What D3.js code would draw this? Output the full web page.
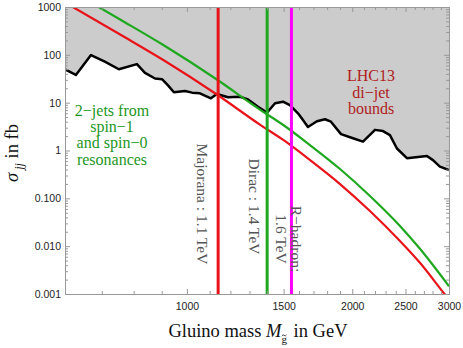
<!DOCTYPE html>
<html>
<head>
<meta charset="utf-8">
<script src="https://cdn.jsdelivr.net/npm/d3@7"></script>
<style>
  body { margin: 0; background: #fff; }
</style>
</head>
<body>
<div id="chart"></div>
<script>
// LHC13 di-jet bound (black jagged line)
var boundMass = [600, 628, 669, 709, 752, 811, 839, 875, 901, 924, 947, 992, 1022, 1056, 1106, 1134, 1188, 1249, 1292, 1347, 1399, 1447, 1496, 1540, 1593, 1618, 1661, 1725, 1784, 1829, 1908, 2006, 2092, 2200, 2275, 2342, 2412, 2515, 2735, 2805, 2888, 3000];
var boundSigma = [50, 38, 99, 72, 50, 64, 42, 32, 31, 23, 16.5, 17.5, 16.2, 15.7, 12.3, 15.2, 13, 13.3, 11.7, 8.2, 6.2, 9.7, 10.5, 8.9, 6, 4.7, 3.1, 4.1, 4.5, 4.0, 2.2, 1.8, 1.53, 2.7, 2.55, 2.1, 1.1, 0.69, 0.77, 0.63, 0.46, 0.39];

// Majorana gluino (red)
var majMass = [620, 756, 906, 1134, 1358, 1498, 1675, 1900, 2154, 2443, 2656, 2925, 3000];
var majSigma = [1000, 266, 78.0, 14.8, 3.48, 1.66, 0.633, 0.199, 0.0543, 0.0128, 0.00449, 0.0011, 0.00076];

// Dirac gluino (green)
var dirMass = [620, 756, 906, 1134, 1358, 1498, 1675, 1900, 2154, 2443, 2656, 3000];
var dirSigma = [2058, 548, 160.5, 30.5, 7.16, 3.41, 1.30, 0.410, 0.112, 0.0264, 0.0088, 0.00145];

// bounds (vertical lines)
var limitMass = [1140, 1400, 1550];
var limitColors = ["#e8141a", "#1fa81f", "#ff00ff"];

var yTicks = [1000, 100, 10, 1, 0.1, 0.01, 0.001];
var yTickLabels = ["1000", "100", "10", "1", "0.100", "0.010", "0.001"];
var xTicks = [1000, 1500, 2000, 2500, 3000];

var serif = "'Liberation Serif', 'Times New Roman', serif";
var sans = "'Liberation Sans', Arial, sans-serif";

var width = 463, height = 348;
var plot = { left: 65, right: 449, top: 7, bottom: 294 };

var xScale = d3.scaleLog().domain([600, 3000]).range([plot.left, plot.right]);
var yScale = d3.scaleLog().domain([0.001, 1000]).range([plot.bottom, plot.top]);

var svg = d3.select("#chart").append("svg")
  .attr("width", width)
  .attr("height", height);

svg.append("clipPath").attr("id", "clip")
  .append("rect")
  .attr("x", plot.left).attr("y", plot.top)
  .attr("width", plot.right - plot.left).attr("height", plot.bottom - plot.top);

var bound = boundMass.map(function(m, i) { return [m, boundSigma[i]]; });
var maj = majMass.map(function(m, i) { return [m, majSigma[i]]; });
var dir = dirMass.map(function(m, i) { return [m, dirSigma[i]]; });

var g = svg.append("g").attr("clip-path", "url(#clip)");

// excluded region
g.append("path")
  .datum(bound)
  .attr("fill", "#cccccc")
  .attr("d", d3.area()
    .x(function(d) { return xScale(d[0]); })
    .y0(plot.top)
    .y1(function(d) { return yScale(d[1]); }));

g.append("path")
  .datum(bound)
  .attr("fill", "none")
  .attr("stroke", "#000")
  .attr("stroke-width", 2.5)
  .attr("stroke-linejoin", "round")
  .attr("d", d3.line()
    .x(function(d) { return xScale(d[0]); })
    .y(function(d) { return yScale(d[1]); }));

var smooth = d3.line()
  .curve(d3.curveMonotoneX)
  .x(function(d) { return xScale(d[0]); })
  .y(function(d) { return yScale(d[1]); });

g.append("path").datum(dir)
  .attr("fill", "none").attr("stroke", "#1fa81f").attr("stroke-width", 2.2)
  .attr("d", smooth);

g.append("path").datum(maj)
  .attr("fill", "none").attr("stroke", "#e8141a").attr("stroke-width", 2.2)
  .attr("d", smooth);

g.selectAll(".limit").data(limitMass).enter().append("line")
  .attr("class", "limit")
  .attr("x1", function(d) { return xScale(d); })
  .attr("x2", function(d) { return xScale(d); })
  .attr("y1", plot.top)
  .attr("y2", plot.bottom)
  .attr("stroke", function(d, i) { return limitColors[i]; })
  .attr("stroke-width", 3);

// axes (ticks inside, gray frame)
var minorY = [];
for (var e = -3; e < 3; e++) {
  for (var k = 2; k < 10; k++) minorY.push(k * Math.pow(10, e));
}
var minorX = [];
for (var m = 700; m < 3000; m += 100) {
  if (xTicks.indexOf(m) < 0) minorX.push(m);
}

function styleAxis(sel) {
  sel.select(".domain").attr("stroke", "#999");
  sel.selectAll(".tick line").attr("stroke", "#999");
  sel.selectAll(".tick text").attr("fill", "#222").style("font-family", sans).style("font-size", "10.5px");
}

svg.append("g").attr("transform", "translate(" + plot.left + ",0)")
  .call(d3.axisLeft(yScale).tickValues(yTicks).tickSize(-5).tickPadding(4)
    .tickFormat(function(d, i) { return yTickLabels[i]; }))
  .call(styleAxis);
svg.append("g").attr("transform", "translate(" + plot.left + ",0)")
  .call(d3.axisLeft(yScale).tickValues(minorY).tickSize(-3).tickFormat(""))
  .call(styleAxis);
svg.append("g").attr("transform", "translate(" + plot.right + ",0)")
  .call(d3.axisRight(yScale).tickValues(yTicks).tickSize(-5).tickFormat(""))
  .call(styleAxis);
svg.append("g").attr("transform", "translate(" + plot.right + ",0)")
  .call(d3.axisRight(yScale).tickValues(minorY).tickSize(-3).tickFormat(""))
  .call(styleAxis);

svg.append("g").attr("transform", "translate(0," + plot.bottom + ")")
  .call(d3.axisBottom(xScale).tickValues(xTicks).tickSize(-5).tickPadding(8.5)
    .tickFormat(d3.format("d")))
  .call(styleAxis);
svg.append("g").attr("transform", "translate(0," + plot.bottom + ")")
  .call(d3.axisBottom(xScale).tickValues(minorX).tickSize(-3).tickFormat(""))
  .call(styleAxis);
svg.append("g").attr("transform", "translate(0," + plot.top + ")")
  .call(d3.axisTop(xScale).tickValues(xTicks).tickSize(-5).tickFormat(""))
  .call(styleAxis);
svg.append("g").attr("transform", "translate(0," + plot.top + ")")
  .call(d3.axisTop(xScale).tickValues(minorX).tickSize(-3).tickFormat(""))
  .call(styleAxis);

// annotations
function block(x, y, lines, color, size, lh, rot) {
  var t = svg.append("text")
    .attr("transform", "translate(" + x + "," + y + ")" + (rot ? " rotate(" + rot + ")" : ""))
    .attr("text-anchor", "middle")
    .attr("fill", color)
    .style("font-family", serif)
    .style("font-size", size + "px");
  lines.forEach(function(s, i) {
    t.append("tspan").attr("x", 0).attr("y", (i - (lines.length - 1) / 2) * lh).attr("dy", "0.35em").text(s);
  });
}

block(112, 134.5, ["2\u2212jets from", "spin\u22121", "and spin\u22120", "resonances"], "#1e961e", 16, 16.3);
block(371, 92, ["LHC13", "di\u2212jet", "bounds"], "#b01c1c", 16, 16.5);
block(202, 204, ["Majorana : 1.1 TeV"], "#555", 15.5, 15, 90);
block(254, 206.5, ["Dirac : 1.4 TeV"], "#555", 15.5, 15, 90);
block(289, 239, ["R\u2212hadron:", "1.6 TeV"], "#555", 15.5, 15, 90);

// axis titles
var yl = svg.append("text")
  .attr("transform", "translate(18,153) rotate(-90)")
  .attr("text-anchor", "middle")
  .style("font-family", serif)
  .style("font-size", "18.5px")
  .attr("fill", "#111");
yl.append("tspan").style("font-style", "italic").text("\u03c3");
yl.append("tspan").style("font-style", "italic").style("font-size", "12px").attr("dy", 5).text(" jj");
yl.append("tspan").attr("dy", -5).text(" in fb");

var xl = svg.append("text")
  .attr("x", 258).attr("y", 336.5)
  .attr("text-anchor", "middle")
  .style("font-family", serif)
  .style("font-size", "18.5px")
  .attr("fill", "#111");
xl.append("tspan").text("Gluino mass ");
xl.append("tspan").style("font-style", "italic").text("M");
xl.append("tspan").style("font-size", "11px").attr("dy", 6).text("g");
xl.append("tspan").attr("dy", -6).attr("dx", 2).text(" in GeV");

// tilde over the subscript g
var gIndex = "Gluino mass M".length;
var gStart = xl.node().getStartPositionOfChar(gIndex);
var gExt = xl.node().getExtentOfChar(gIndex);
var tx = gExt.x + gExt.width / 2, ty = gStart.y - 7.5;
svg.append("path")
  .attr("d", "M" + (tx - 2.3) + "," + (ty + 0.8) + " q1.1,-1.8 2.3,-0.4 q1.1,1.2 2.3,-0.6")
  .attr("fill", "none")
  .attr("stroke", "#111")
  .attr("stroke-width", 0.8);
</script>
</body>
</html>
